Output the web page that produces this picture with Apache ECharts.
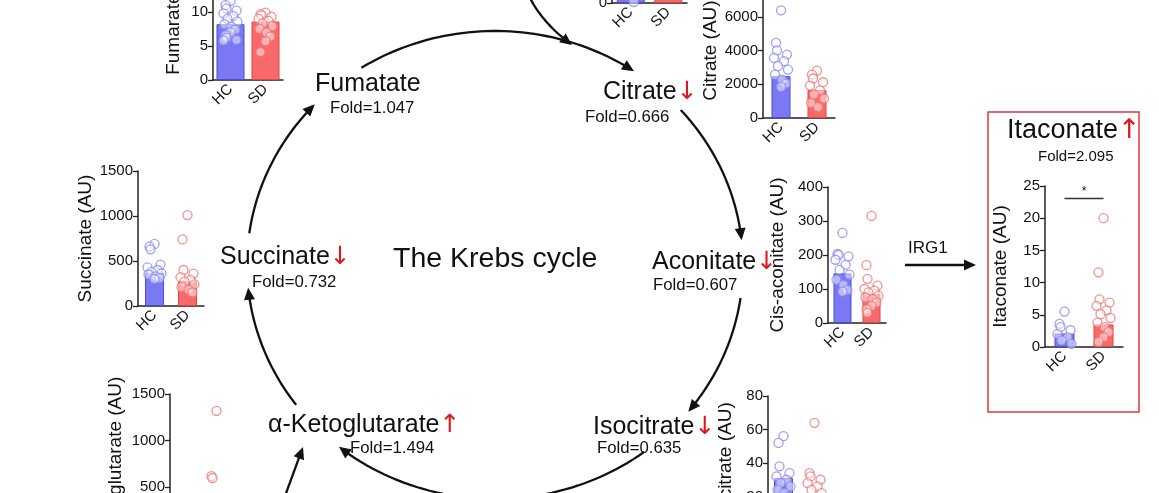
<!DOCTYPE html>
<html><head><meta charset="utf-8">
<script src="https://cdn.jsdelivr.net/npm/echarts@6/dist/echarts.min.js"></script>
<style>html,body{margin:0;padding:0;background:#fff}#c{width:1159px;height:493px}</style>
</head><body><div id="c"></div>
<script>
// ---------- DATA ----------
const groups = ['HC', 'SD'];

const fumarateBars = [8.2, 8.6];
const fumarateHC = [11.6, 11.0, 10.5, 10.2, 9.8, 9.4, 9.0, 8.6, 8.2, 7.8, 7.4, 7.0, 6.6, 6.2, 5.9, 5.8];
const fumarateSD = [9.9, 9.7, 9.5, 9.3, 9.0, 8.7, 8.3, 7.9, 7.5, 7.0, 6.4, 5.7, 4.1];

const topPanelBars = [60, 55];
const topPanelHC = [80, 70, 65, 58, 50, 1];
const topPanelSD = [75, 66, 60, 52, 45];

const citrateBars = [2480, 1650];
const citrateHC = [6380, 4450, 4010, 3760, 3560, 3370, 3070, 2870, 2570, 2280, 2040, 1840];
const citrateSD = [2810, 2570, 2340, 2120, 1920, 1640, 1390, 1150, 890, 650];

const succinateBars = [370, 275];
const succinateHC = [690, 660, 630, 460, 430, 400, 380, 360, 350, 330, 310, 300];
const succinateSD = [1010, 740, 400, 360, 320, 290, 270, 240, 210, 180, 150];

const cisAconitateBars = [146, 86];
const cisAconitateHC = [265, 203, 200, 196, 186, 171, 156, 142, 127, 112, 97, 92];
const cisAconitateSD = [315, 170, 130, 110, 100, 95, 90, 80, 75, 70, 60, 50, 40, 30];

const itaconateBars = [2.1, 3.5];
const itaconateHC = [5.5, 3.6, 3.1, 2.6, 2.0, 1.5, 1.0, 0.5];
const itaconateSD = [20.0, 11.6, 7.4, 6.9, 6.4, 5.7, 5.1, 4.5, 3.8, 3.1, 2.3, 1.5, 0.8];

const akgBars = [280, 420];
const akgHC = [370, 340, 310, 290, 270, 250, 230, 200];
const akgSD = [1320, 620, 600, 380, 360, 340, 300, 280, 250, 200];

const isocitrateBars = [31, 20];
const isocitrateHC = [56, 52, 38, 34, 32, 30, 28, 26, 24, 22, 20, 18, 16];
const isocitrateSD = [64, 34, 32, 30, 28, 26, 24, 22, 18, 15, 12, 10, 8];

const foldLabels = {
  fumarate: 'Fold=1.047', citrate: 'Fold=0.666', aconitate: 'Fold=0.607',
  isocitrate: 'Fold=0.635', akg: 'Fold=1.494', succinate: 'Fold=0.732', itaconate: 'Fold=2.095'
};

// ---------- LAYOUT ----------
const FONT = 'Arial, "Liberation Sans", Helvetica, sans-serif';
const panels = [
  {title:'Fumarate (AU)', bars:fumarateBars, hc:fumarateHC, sd:fumarateSD,
   g:{left:213, top:-56, width:70, height:136}, max:20, interval:5, nameGap:30, barWidth:28},
  {title:'', bars:topPanelBars, hc:topPanelHC, sd:topPanelSD,
   g:{left:612, top:-97, width:75, height:100}, max:100, interval:50, nameGap:30, barWidth:28},
  {title:'Citrate (AU)', bars:citrateBars, hc:citrateHC, sd:citrateSD,
   g:{left:763, top:-17, width:72, height:135}, max:8000, interval:2000, nameGap:41, barWidth:19},
  {title:'Succinate (AU)', bars:succinateBars, hc:succinateHC, sd:succinateSD,
   g:{left:138, top:171, width:66, height:135}, max:1500, interval:500, nameGap:42, barWidth:19, sig:[1555,'**']},
  {title:'Cis-aconitate (AU)', bars:cisAconitateBars, hc:cisAconitateHC, sd:cisAconitateSD,
   g:{left:828, top:187, width:58, height:136}, max:400, interval:100, nameGap:41, barWidth:18, sig:[412,'***']},
  {title:'Itaconate (AU)', bars:itaconateBars, hc:itaconateHC, sd:itaconateSD,
   g:{left:1045, top:186, width:78, height:161}, max:25, interval:5, nameGap:35, barWidth:20, sig:[23.1,'*']},
  {title:'α-Ketoglutarate (AU)', bars:akgBars, hc:akgHC, sd:akgSD,
   g:{left:170, top:394, width:62, height:140}, max:1500, interval:500, nameGap:45, barWidth:19, sig:[1521,'*']},
  {title:'Isocitrate (AU)', bars:isocitrateBars, hc:isocitrateHC, sd:isocitrateSD,
   g:{left:768, top:396, width:62, height:134}, max:80, interval:20, nameGap:33, barWidth:19, sig:[82.4,'**']}
];

const AX = '#222';
const blueBar = {color:'#7a78f2', borderColor:'#4b4bd4', borderWidth:1};
const redBar = {color:'#f86a6a', borderColor:'#e04545', borderWidth:1};
const jitter = [0, -5, -4, 6, -7, 3, -3, 7, -6, 1, 5];

const grid = [], xAxis = [], yAxis = [], series = [];
panels.forEach((p, i) => {
  grid.push(Object.assign({containLabel:false, outerBoundsMode:'none'}, p.g));
  xAxis.push({type:'category', gridIndex:i, data:groups,
    axisLine:{lineStyle:{color:AX, width:1.5}},
    axisTick:{alignWithLabel:true, length:5, lineStyle:{color:AX, width:1.3}},
    axisLabel:{rotate:45, fontSize:15, color:'#111', margin:7, fontFamily:FONT}});
  yAxis.push({type:'value', gridIndex:i, min:0, max:p.max, interval:p.interval,
    name:p.title, nameLocation:'middle', nameGap:p.nameGap,
    nameTextStyle:{fontSize:19, color:'#111', fontFamily:FONT},
    axisLine:{show:true, lineStyle:{color:AX, width:1.5}},
    axisTick:{show:true, length:5, lineStyle:{color:AX, width:1.3}},
    splitLine:{show:false},
    axisLabel:{fontSize:15, color:'#111', margin:5, fontFamily:FONT, formatter: v => String(v)}});
  const bar = {type:'bar', xAxisIndex:i, yAxisIndex:i, barWidth:p.barWidth, z:2,
    data:p.bars.map((v, j) => ({value:v, itemStyle: j ? redBar : blueBar}))};
  if (p.sig) {
    bar.markLine = {silent:true, symbol:['none','none'], animation:false,
      lineStyle:{color:'#333', width:1.3, type:'solid'},
      label:{show:true, formatter:p.sig[1], position:'insideMiddleTop', distance:1, fontSize:12, color:'#111', fontFamily:FONT},
      data:[[{coord:['HC', p.sig[0]]}, {coord:['SD', p.sig[0]]}]]};
  }
  series.push(bar);
  [['HC', p.hc, '#8a88ee'], ['SD', p.sd, '#ee7676']].forEach(([g, vals, col]) => {
    series.push({type:'scatter', xAxisIndex:i, yAxisIndex:i, z:3, symbol:'circle', symbolSize:9,
      itemStyle:{color:'rgba(255,255,255,0.6)', borderColor:col, borderWidth:1.3},
      data:vals.map((v, k) => ({value:[g, v], symbolOffset:[jitter[k % jitter.length], 0]}))});
  });
});

// ---------- DIAGRAM GRAPHICS ----------
const graphic = [];
const E = {cx:495, cy:265, rx:248, ry:234};
function arrowPath(pts) {
  const q = pts[pts.length - 1];
  const p = pts[pts.length - 2];
  const dx = q[0] - p[0], dy = q[1] - p[1], L = Math.hypot(dx, dy);
  const ux = dx / L, uy = dy / L, len = 12, w = 5.5;
  const bx = q[0] - ux * len, by = q[1] - uy * len;
  const line = pts.slice(0, -1).concat([[bx + ux * 2, by + uy * 2]]);
  graphic.push({type:'polyline', shape:{points:line}, style:{stroke:'#111', lineWidth:2.3, fill:null}, z:10});
  graphic.push({type:'polygon', shape:{points:[[q[0], q[1]], [bx - uy * w, by + ux * w], [bx + uy * w, by - ux * w]]},
    style:{fill:'#111'}, z:10});
}
function ellArc(a0, a1) {
  const pts = [], n = 48;
  for (let k = 0; k <= n; k++) {
    const t = (a0 + (a1 - a0) * k / n) * Math.PI / 180;
    pts.push([E.cx + E.rx * Math.cos(t), E.cy + E.ry * Math.sin(t)]);
  }
  return pts;
}
[[-122.6, -55.9], [-172.2, -136.6], [-41.5, -6.1], [8.1, 38.8], [53, 129], [143.3, 174.4]]
  .forEach(a => arrowPath(ellArc(a[0], a[1])));
(function () {
  const P0 = [530, -2], C1 = [543, 23.5], P1 = [572, 45], pts = [];
  for (let k = 0; k <= 30; k++) {
    const t = k / 30, u = 1 - t;
    pts.push([u * u * P0[0] + 2 * u * t * C1[0] + t * t * P1[0], u * u * P0[1] + 2 * u * t * C1[1] + t * t * P1[1]]);
  }
  arrowPath(pts);
})();
arrowPath([[285, 496], [303, 447]]);
arrowPath([[905, 265], [976, 265]]);

function txt(t, x, y, s, arrow) {
  const style = {text: arrow ? t + '{r|' + arrow + '}' : t, x:x, y:y, fontSize:s, fontFamily:FONT, fill:'#111',
    align:'left', textAlign:'left', verticalAlign:'middle', textVerticalAlign:'middle'};
  if (arrow) style.rich = {r:{fill:'#e3141b', fontSize:s, fontFamily:'"DejaVu Sans", Arial, sans-serif'}};
  graphic.push({type:'text', style:style, z:12});
}
txt('Fumatate', 315, 84, 25);
txt(foldLabels.fumarate, 330, 108, 16.8);
txt('Citrate', 603, 92, 25, '↓');
txt(foldLabels.citrate, 585, 117, 16.8);
txt('Aconitate', 652, 262, 25, '↓');
txt(foldLabels.aconitate, 653, 285, 16.8);
txt('Isocitrate', 593, 427, 25, '↓');
txt(foldLabels.isocitrate, 597, 448, 16.8);
txt('α-Ketoglutarate', 268, 425, 25, '↑');
txt(foldLabels.akg, 350, 448, 16.8);
txt('Succinate', 220, 257, 25, '↓');
txt(foldLabels.succinate, 252, 282, 16.8);
txt('The Krebs cycle', 393, 259, 28.5);
txt('Itaconate', 1007, 131, 27, '↑');
txt(foldLabels.itaconate, 1038, 157, 15);
txt('IRG1', 908, 248, 17);
graphic.push({type:'rect', shape:{x:988, y:112, width:151, height:300},
  style:{fill:'none', stroke:'#e0393e', lineWidth:1.5}, z:1});

const chart = echarts.init(document.getElementById('c'), null, {renderer:'canvas'});
chart.setOption({animation:false, backgroundColor:'#fff', grid, xAxis, yAxis, series, graphic});
</script>
</body></html>
